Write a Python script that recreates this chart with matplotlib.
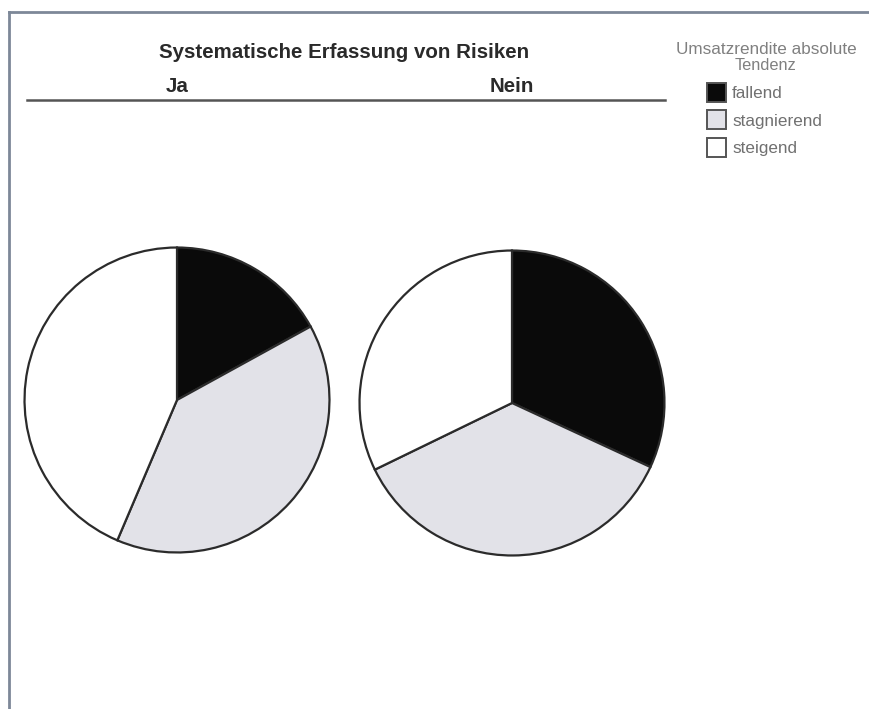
import matplotlib.pyplot as plt
from matplotlib.lines import Line2D
from matplotlib.patches import Rectangle

plt.rcParams['font.family'] = ['Liberation Sans', 'DejaVu Sans']

# share of companies per trend, in percent
groups = ['Ja', 'Nein']
categories = ['fallend', 'stagnierend', 'steigend']
ja_values = [17.0, 39.4, 43.6]
nein_values = [31.9, 35.9, 32.2]
colors = ['#0a0a0a', '#e2e2e8', '#ffffff']

W, H = 870, 709
fig = plt.figure(figsize=(W / 100, H / 100), dpi=100)
fig.patch.set_facecolor('white')


def px_axes(cx, cy, r):
    # axes box centred on (cx, cy) in pixel coordinates from the top left
    return fig.add_axes([(cx - r) / W, (H - cy - r) / H, 2 * r / W, 2 * r / H])


centers = [(177, 400), (512, 403)]
for (cx, cy), values in zip(centers, [ja_values, nein_values]):
    ax = px_axes(cx, cy, 154)
    ax.pie(values, colors=colors, startangle=90, counterclock=False,
           radius=1.0,
           wedgeprops=dict(edgecolor='#2b2b2b', linewidth=1.6))
    ax.set_xlim(-1.01, 1.01)
    ax.set_ylim(-1.01, 1.01)
    ax.set_aspect('equal')
    ax.axis('off')

# header
fig.text(344 / W, 1 - 53 / H, 'Systematische Erfassung von Risiken',
         ha='center', va='center', fontsize=14.8, fontweight='bold', color='#2a2a2a')
for (cx, cy), name in zip(centers, groups):
    fig.text(cx / W, 1 - 87 / H, name, ha='center', va='center',
             fontsize=14.8, fontweight='bold', color='#2a2a2a')
fig.add_artist(Line2D([27 / W, 665 / W], [1 - 100 / H, 1 - 100 / H],
                      color='#555555', linewidth=1.8))

# legend
fig.text(766 / W, 1 - 49 / H, 'Umsatzrendite absolute', ha='center', va='center',
         fontsize=12.3, color='#808080')
fig.text(766 / W, 1 - 65 / H, 'Tendenz', ha='center', va='center',
         fontsize=11.8, color='#808080')
for i, (label, col) in enumerate(zip(categories, colors)):
    y = 92 + i * 27.5
    fig.add_artist(Rectangle((707 / W, 1 - (y + 9.5) / H), 19 / W, 19 / H,
                             facecolor=col, edgecolor='#555555', linewidth=1.4,
                             transform=fig.transFigure))
    fig.text(732 / W, 1 - (y + 2) / H, label, ha='left', va='center',
             fontsize=12.3, color='#707070')

# frame around the chart area
fig.add_artist(Line2D([9 / W, 1.0], [1 - 12 / H, 1 - 12 / H], color='#7d8898', linewidth=2))
fig.add_artist(Line2D([9 / W, 9 / W], [0, 1 - 12 / H], color='#7d8898', linewidth=2))

fig.savefig('out.png', dpi=100, facecolor='white')
